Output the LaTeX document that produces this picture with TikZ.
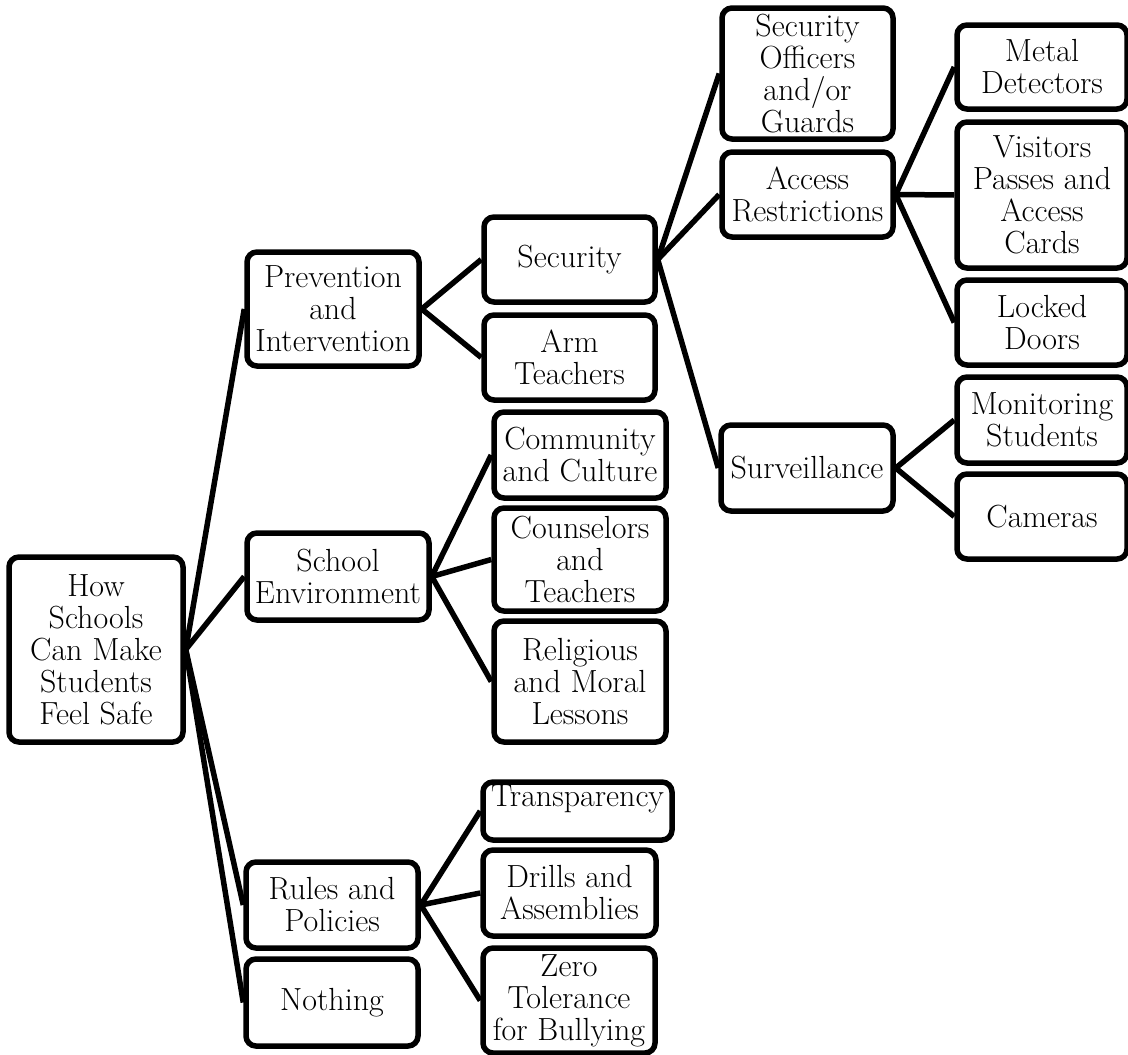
\documentclass[tikz,border=0pt]{standalone}
\usepackage{fontspec}
\begin{document}
\begin{tikzpicture}[x=1pt,y=-1pt,
  box/.style={draw=black, line width=5.5pt, rounded corners=10pt, fill=white,
    inner sep=0pt, align=center, font=\fontsize{32}{32}\selectfont},
  link/.style={draw=black, line width=5.5pt}]
\useasboundingbox (0,0) rectangle (1128,1055);

% root
\node[box, minimum width=174pt, minimum height=185pt] (root) at (96,649.5) {How\\Schools\\Can Make\\Students\\Feel Safe};

% level 1
\node[box, minimum width=172pt, minimum height=114pt] (prev) at (333,309) {Prevention\\and\\Intervention};
\node[box, minimum width=182pt, minimum height=87pt] (school) at (338,576.5) {School\\Environment};
\node[box, minimum width=172pt, minimum height=86pt] (rules) at (332,905) {Rules and\\Policies};
\node[box, minimum width=172pt, minimum height=87pt] (nothing) at (332,1002.5) {Nothing};

% level 2
\node[box, minimum width=171pt, minimum height=85pt] (security) at (569.5,259.5) {Security};
\node[box, minimum width=171pt, minimum height=85pt] (arm) at (569.5,357.5) {Arm\\Teachers};
\node[box, minimum width=172pt, minimum height=86pt] (community) at (580,455) {Community\\and Culture};
\node[box, minimum width=172pt, minimum height=103pt] (counselors) at (580,559.5) {Counselors\\and\\Teachers};
\node[box, minimum width=172pt, minimum height=121pt] (religious) at (580,681.5) {Religious\\and Moral\\Lessons};
\node[box, minimum width=189pt, minimum height=58pt, text height=22pt, text depth=32pt] (transparency) at (577.5,811) {Transparency};
\node[box, minimum width=173pt, minimum height=86pt] (drills) at (569.5,893) {Drills and\\Assemblies};
\node[box, minimum width=172pt, minimum height=105pt] (zero) at (569,1000.5) {Zero\\Tolerance\\for Bullying};

% level 3
\node[box, minimum width=171pt, minimum height=131pt] (officers) at (807.5,73.5) {Security\\Officers\\and/or\\Guards};
\node[box, minimum width=171pt, minimum height=85pt] (access) at (807.5,194.5) {Access\\Restrictions};
\node[box, minimum width=172pt, minimum height=86pt] (surveillance) at (807,468) {Surveillance};

% level 4
\node[box, minimum width=170pt, minimum height=84pt] (metal) at (1042,67) {Metal\\Detectors};
\node[box, minimum width=170pt, minimum height=146pt] (visitors) at (1042,195) {Visitors\\Passes and\\Access\\Cards};
\node[box, minimum width=170pt, minimum height=85pt] (locked) at (1042,322.5) {Locked\\Doors};
\node[box, minimum width=170pt, minimum height=86pt] (monitoring) at (1042,420) {Monitoring\\Students};
\node[box, minimum width=170pt, minimum height=85pt] (cameras) at (1042,516.5) {Cameras};

% connectors
\draw[link] (root.east) -- (prev.west);
\draw[link] (root.east) -- (school.west);
\draw[link] (root.east) -- (rules.west);
\draw[link] (root.east) -- (nothing.west);

\draw[link] (prev.east) -- (security.west);
\draw[link] (prev.east) -- (arm.west);

\draw[link] (school.east) -- (community.west);
\draw[link] (school.east) -- (counselors.west);
\draw[link] (school.east) -- (religious.west);

\draw[link] (rules.east) -- (transparency.west);
\draw[link] (rules.east) -- (drills.west);
\draw[link] (rules.east) -- (zero.west);

\draw[link] (security.east) -- (officers.west);
\draw[link] (security.east) -- (access.west);
\draw[link] (security.east) -- (surveillance.west);

\draw[link] (access.east) -- (metal.west);
\draw[link] (access.east) -- (visitors.west);
\draw[link] (access.east) -- (locked.west);

\draw[link] (surveillance.east) -- (monitoring.west);
\draw[link] (surveillance.east) -- (cameras.west);
\end{tikzpicture}
\end{document}
